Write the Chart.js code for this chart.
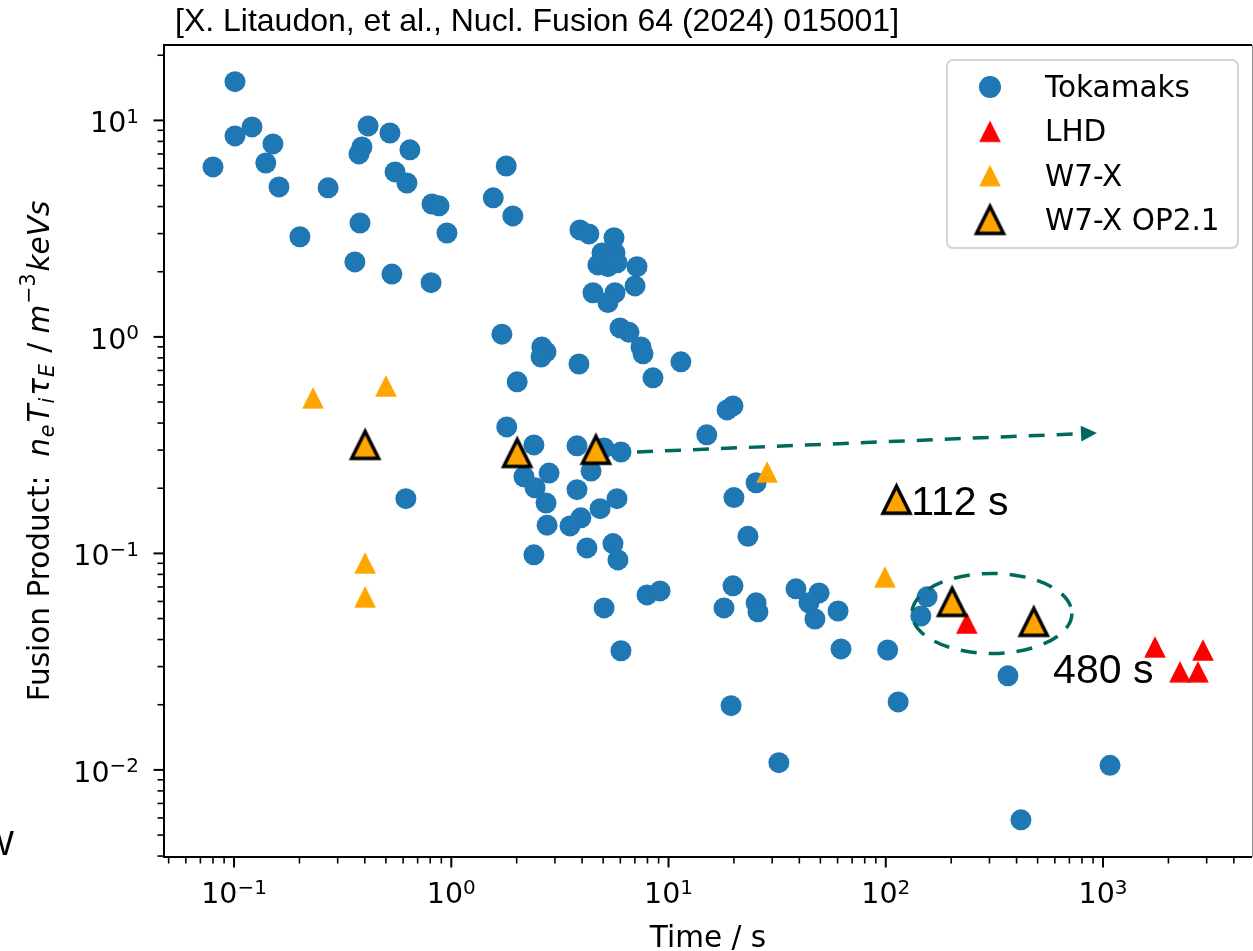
<!DOCTYPE html>
<html>
<head>
<meta charset="utf-8">
<script src="https://cdn.jsdelivr.net/npm/chart.js@4.4.1/dist/chart.umd.min.js"></script>
<style>
  html, body { margin: 0; padding: 0; background: #fff; }
  #wrap { width: 1253px; height: 951px; }
</style>
</head>
<body>
<div id="wrap"><canvas id="fusionChart" width="1253" height="951"></canvas></div>
<script>
// --- Data: energy confinement time (s) vs fusion triple product ---
const tokamakTime = [
  0.080, 0.101, 0.101, 0.121, 0.151, 0.140, 0.161, 0.201, 0.271, 0.414,
  0.388, 0.376, 0.522, 0.645, 0.551, 0.625, 0.380, 0.360, 0.533, 0.815,
  0.878, 0.955, 0.807, 1.56, 1.79, 1.92, 3.91, 4.30, 5.61, 4.94,
  5.67, 4.73, 5.26, 5.79, 7.16, 7.01, 4.49, 5.67, 5.26, 5.98,
  6.58, 7.47, 7.63, 11.4, 8.48, 1.71, 2.61, 2.73, 2.59, 3.87,
  2.01, 19.8, 18.6, 15.0, 1.80, 2.40, 3.79, 5.05, 6.04, 2.16,
  2.43, 2.82, 4.40, 3.79, 2.73, 5.79, 4.84, 3.95, 3.52, 2.76,
  4.21, 5.55, 5.85, 2.40, 0.618, 25.3, 20.0, 23.2, 5.05, 6.04,
  7.96, 9.14, 19.8, 18.0, 25.3, 25.8, 38.6, 49.3, 44.3, 47.2,
  60.3, 62.2, 102, 114, 155, 145, 365, 419, 1077, 19.4, 32.2
];
const tokamakProduct = [
  6.10, 15.1, 8.48, 9.33, 7.79, 6.36, 4.93, 2.90, 4.88, 9.43,
  7.54, 7.00, 8.75, 7.31, 5.78, 5.14, 3.36, 2.22, 1.95, 4.11,
  4.03, 3.02, 1.78, 4.39, 6.16, 3.62, 3.12, 2.99, 2.87, 2.44,
  2.44, 2.15, 2.11, 2.20, 2.11, 1.72, 1.60, 1.60, 1.44, 1.10,
  1.05, 0.899, 0.835, 0.767, 0.647, 1.03, 0.899, 0.853, 0.808, 0.750,
  0.620, 0.480, 0.460, 0.353, 0.384, 0.317, 0.314, 0.307, 0.294, 0.226,
  0.201, 0.235, 0.240, 0.197, 0.171, 0.179, 0.161, 0.146, 0.134, 0.135,
  0.106, 0.111, 0.0933, 0.0985, 0.179, 0.212, 0.181, 0.120, 0.0560, 0.0355,
  0.0643, 0.0671, 0.0708, 0.0560, 0.0591, 0.0537, 0.0686, 0.0657, 0.0591, 0.0498,
  0.0542, 0.0362, 0.0358, 0.0206, 0.0630, 0.0514, 0.0272, 0.00588, 0.0105, 0.0198, 0.0108
];
const lhdTime = [236, 1734, 2884, 2260, 2735];
const lhdProduct = [0.0477, 0.0370, 0.0358, 0.0284, 0.0284];
const w7xTime = [0.231, 0.500, 0.401, 0.401, 28.4, 99.1];
const w7xProduct = [0.523, 0.594, 0.0904, 0.0630, 0.238, 0.0779];
const op21Time = [0.401, 2.01, 4.63, 112, 202, 480];
const op21Product = [0.317, 0.291, 0.301, 0.177, 0.0597, 0.0483];

// tick labels (10^exp)
const xMajorTicks = [0.1, 1, 10, 100, 1000];
const xTickExponents = ['\u22121', '0', '1', '2', '3'];
const yMajorTicks = [0.01, 0.1, 1, 10];
const yTickExponents = ['\u22122', '\u22121', '0', '1'];

const DEJAVU = '"DejaVu Sans", sans-serif';
const ARIAL = '"Liberation Sans", Arial, sans-serif';
const TEAL = '#00695e';

const toPoints = (xs, ys) => xs.map((x, i) => ({ x: x, y: ys[i] }));

// matplotlib-like '^' marker drawn on a small canvas
function triangleMarker(fill, half, edge, lineWidth) {
    const size = Math.ceil(2 * half + 12);
    const c = document.createElement('canvas');
    c.width = size; c.height = size;
    const g = c.getContext('2d');
    const m = size / 2;
    g.beginPath();
    g.moveTo(m, m - half);
    g.lineTo(m - half, m + half);
    g.lineTo(m + half, m + half);
    g.closePath();
    g.fillStyle = fill;
    g.fill();
    if (edge) {
        g.lineWidth = lineWidth;
        g.lineJoin = 'miter';
        g.strokeStyle = edge;
        g.stroke();
    }
    return c;
}

const lhdMarker = triangleMarker('#ff0000', 10.8);
const w7xMarker = triangleMarker('#ffa500', 10.8);
const op21Marker = triangleMarker('#ffa500', 13.5, '#000000', 3.5);

// "10" with a raised exponent
function drawPower(ctx, x, y, exp, align) {
    ctx.font = `28.5px ${DEJAVU}`;
    const baseW = ctx.measureText('10').width;
    ctx.font = `20px ${DEJAVU}`;
    const expW = ctx.measureText(exp).width;
    const left = align === 'right' ? x - baseW - expW : x - (baseW + expW) / 2;
    ctx.textAlign = 'left';
    ctx.textBaseline = 'alphabetic';
    ctx.font = `28.5px ${DEJAVU}`;
    ctx.fillText('10', left, y);
    ctx.font = `20px ${DEJAVU}`;
    ctx.fillText(exp, left + baseW, y - 9.5);
}

// --- frame, log ticks and axis labels ---
const axesPlugin = {
    id: 'axesPlugin',
    afterDraw(chart) {
        const ctx = chart.ctx;
        const xs = chart.scales.x, ys = chart.scales.y;
        const { left, right, top, bottom } = chart.chartArea;
        ctx.save();

        // spines
        ctx.strokeStyle = '#000';
        ctx.lineWidth = 2;
        ctx.beginPath();
        ctx.moveTo(right, top); ctx.lineTo(left, top);
        ctx.lineTo(left, bottom); ctx.lineTo(right, bottom);
        ctx.stroke();
        ctx.strokeStyle = '#8c8c8c';
        ctx.lineWidth = 1;
        ctx.beginPath();
        ctx.moveTo(right + 0.5, top); ctx.lineTo(right + 0.5, bottom);
        ctx.stroke();

        // ticks at m * 10^k
        ctx.strokeStyle = '#000';
        for (let k = -3; k <= 4; k++) {
            for (let m = 1; m <= 9; m++) {
                const v = m * Math.pow(10, k);
                const major = m === 1;
                ctx.lineWidth = major ? 2 : 1.6;
                const len = major ? 10.5 : 6.5;
                if (v >= xs.min && v <= xs.max) {
                    const px = xs.getPixelForValue(v);
                    ctx.beginPath(); ctx.moveTo(px, bottom); ctx.lineTo(px, bottom + len); ctx.stroke();
                }
                if (v >= ys.min && v <= ys.max) {
                    const py = ys.getPixelForValue(v);
                    ctx.beginPath(); ctx.moveTo(left, py); ctx.lineTo(left - len, py); ctx.stroke();
                }
            }
        }

        ctx.fillStyle = '#000';
        xMajorTicks.forEach((v, i) => drawPower(ctx, xs.getPixelForValue(v), 903, xTickExponents[i], 'center'));
        yMajorTicks.forEach((v, i) => drawPower(ctx, 139, ys.getPixelForValue(v) + 12, yTickExponents[i], 'right'));

        // x label
        ctx.font = `29.5px ${DEJAVU}`;
        ctx.textAlign = 'center';
        ctx.fillText('Time / s', (left + right) / 2, 947);

        // y label, rotated, with mathtext-like sub/superscripts
        const reg = `29.5px ${DEJAVU}`, ita = `oblique 29.5px ${DEJAVU}`;
        const subI = `oblique 20.5px ${DEJAVU}`, supR = `20.5px ${DEJAVU}`;
        const parts = [
            { t: 'Fusion Product:  ', f: reg, dy: 0, gap: 0 },
            { t: 'n', f: ita, dy: 0, gap: 1 }, { t: 'e', f: subI, dy: 5, gap: 2 },
            { t: 'T', f: ita, dy: 0, gap: 1 }, { t: 'i', f: subI, dy: 5, gap: 2 },
            { t: '\u03c4', f: ita, dy: 0, gap: 1 }, { t: 'E', f: subI, dy: 5, gap: 2 },
            { t: ' / ', f: reg, dy: 0, gap: 0 },
            { t: 'm', f: ita, dy: 0, gap: 1 }, { t: '\u22123', f: supR, dy: -14, gap: 2 },
            { t: 'keVs', f: ita, dy: 0, gap: 0 }
        ];
        let total = 0;
        parts.forEach(p => { ctx.font = p.f; p.w = ctx.measureText(p.t).width; total += p.w + p.gap; });
        ctx.translate(49, (top + bottom) / 2);
        ctx.rotate(-Math.PI / 2);
        ctx.textAlign = 'left';
        let cx = -total / 2;
        parts.forEach(p => { ctx.font = p.f; ctx.fillText(p.t, cx, p.dy); cx += p.w + p.gap; });
        ctx.restore();

        // reference line above the axes
        ctx.save();
        ctx.fillStyle = '#000';
        ctx.font = `32px ${ARIAL}`;
        ctx.textAlign = 'left';
        ctx.fillText('[X. Litaudon, et al., Nucl. Fusion 64 (2024) 015001]', 175, 31);
        ctx.font = `35px ${ARIAL}`;
        ctx.fillText('W', -19, 855);
        ctx.restore();
    }
};

// --- arrow, dashed ellipse and duration labels ---
const annotations = {
    arrow: { from: { x: 7.16, y: 0.294 }, to: { x: 938, y: 0.360 } },
    ellipse: { x: 308, y: 0.0528, rx: 80, ry: 40 },
    labels: [
        { text: '112 s', x: 131, y: 0.1506 },
        { text: '480 s', x: 589, y: 0.0252 }
    ]
};

const annotationPlugin = {
    id: 'annotationPlugin',
    afterDraw(chart) {
        const ctx = chart.ctx;
        const xs = chart.scales.x, ys = chart.scales.y;
        ctx.save();
        ctx.strokeStyle = TEAL;
        ctx.fillStyle = TEAL;
        ctx.lineWidth = 3.5;

        const a = annotations.arrow;
        const x0 = xs.getPixelForValue(a.from.x), y0 = ys.getPixelForValue(a.from.y);
        const x1 = xs.getPixelForValue(a.to.x), y1 = ys.getPixelForValue(a.to.y);
        const ang = Math.atan2(y1 - y0, x1 - x0);
        const headLen = 16, headHalf = 8;
        const bx = x1 - Math.cos(ang) * headLen, by = y1 - Math.sin(ang) * headLen;
        ctx.setLineDash([16, 12]);
        ctx.beginPath(); ctx.moveTo(x0, y0); ctx.lineTo(bx, by); ctx.stroke();
        ctx.setLineDash([]);
        ctx.beginPath();
        ctx.moveTo(x1, y1);
        ctx.lineTo(bx + Math.sin(ang) * headHalf, by - Math.cos(ang) * headHalf);
        ctx.lineTo(bx - Math.sin(ang) * headHalf, by + Math.cos(ang) * headHalf);
        ctx.closePath();
        ctx.fill();

        const e = annotations.ellipse;
        ctx.setLineDash([16, 12]);
        ctx.beginPath();
        ctx.ellipse(xs.getPixelForValue(e.x), ys.getPixelForValue(e.y), e.rx, e.ry, 0, 0, Math.PI * 2);
        ctx.stroke();
        ctx.setLineDash([]);

        ctx.fillStyle = '#000';
        ctx.font = `41px ${ARIAL}`;
        ctx.textAlign = 'left';
        ctx.textBaseline = 'alphabetic';
        annotations.labels.forEach(l => ctx.fillText(l.text, xs.getPixelForValue(l.x), ys.getPixelForValue(l.y)));
        ctx.restore();
    }
};

// --- legend box in the upper right corner ---
const legendPlugin = {
    id: 'legendPlugin',
    afterDraw(chart) {
        const ctx = chart.ctx;
        ctx.save();
        const bx = 947, by = 60, bw = 291, bh = 188, r = 6;
        ctx.beginPath();
        ctx.moveTo(bx + r, by);
        ctx.arcTo(bx + bw, by, bx + bw, by + bh, r);
        ctx.arcTo(bx + bw, by + bh, bx, by + bh, r);
        ctx.arcTo(bx, by + bh, bx, by, r);
        ctx.arcTo(bx, by, bx + bw, by, r);
        ctx.closePath();
        ctx.fillStyle = 'rgba(255,255,255,0.8)';
        ctx.fill();
        ctx.strokeStyle = '#d4d4d4';
        ctx.lineWidth = 2;
        ctx.stroke();

        ctx.font = `29.5px ${DEJAVU}`;
        ctx.textAlign = 'left';
        ctx.textBaseline = 'alphabetic';
        chart.data.datasets.forEach((ds, i) => {
            const cy = 87 + i * 44.3;
            const style = ds.pointStyle;
            if (style instanceof HTMLCanvasElement) {
                ctx.drawImage(style, 990 - style.width / 2, cy - style.height / 2);
            } else {
                ctx.fillStyle = ds.backgroundColor;
                ctx.beginPath(); ctx.arc(990, cy, 11, 0, Math.PI * 2); ctx.fill();
            }
            ctx.fillStyle = '#000';
            ctx.fillText(ds.label, 1045, cy + 10);
        });
        ctx.restore();
    }
};

const ctx = document.getElementById('fusionChart').getContext('2d');
const chart = new Chart(ctx, {
    type: 'scatter',
    data: {
        datasets: [
            { label: 'Tokamaks', data: toPoints(tokamakTime, tokamakProduct), pointStyle: 'circle',
              pointRadius: 10.5, backgroundColor: '#1f77b4', borderWidth: 0, order: 4 },
            { label: 'LHD', data: toPoints(lhdTime, lhdProduct), pointStyle: lhdMarker,
              pointRadius: 11, backgroundColor: '#ff0000', borderWidth: 0, order: 3 },
            { label: 'W7-X', data: toPoints(w7xTime, w7xProduct), pointStyle: w7xMarker,
              pointRadius: 11, backgroundColor: '#ffa500', borderWidth: 0, order: 2 },
            { label: 'W7-X OP2.1', data: toPoints(op21Time, op21Product), pointStyle: op21Marker,
              pointRadius: 16, backgroundColor: '#ffa500', borderWidth: 0, order: 1 }
        ]
    },
    options: {
        responsive: false,
        animation: false,
        events: [],
        layout: { autoPadding: false, padding: { left: 164, right: 1, top: 45, bottom: 94 } },
        scales: {
            x: { type: 'logarithmic', bounds: 'data', min: 0.0476, max: 4850, display: false },
            y: { type: 'logarithmic', bounds: 'data', min: 0.00396, max: 22.3, display: false }
        },
        plugins: {
            legend: { display: false },
            tooltip: { enabled: false }
        }
    },
    plugins: [axesPlugin, annotationPlugin, legendPlugin]
});
</script>
</body>
</html>
